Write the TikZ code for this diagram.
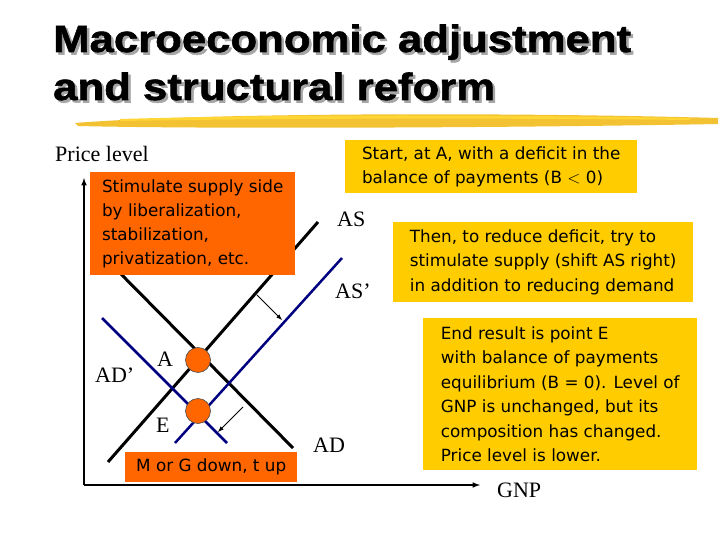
\documentclass[tikz,border=0pt]{standalone}
\usepackage{fontspec}
\setmainfont{Liberation Serif}
\newfontfamily\vfont{DejaVu Sans}
\newfontfamily\tfont[FakeStretch=1.15,FakeBold=1.5]{Liberation Sans}
\definecolor{org}{HTML}{FF6600}
\definecolor{yel}{HTML}{FFCC00}
\definecolor{navy}{HTML}{000080}
\definecolor{brush}{HTML}{F2C233}
\begin{document}
\begin{tikzpicture}[x=1pt,y=-1pt,
  obox/.style={fill=org,inner sep=2pt,align=left,font=\vfont\fontsize{16.8}{24}\selectfont},
  ybox/.style={fill=yel,inner sep=2pt,align=left,font=\vfont\fontsize{16.8}{24.5}\selectfont},
  lab/.style={font=\fontsize{22}{24}\selectfont,inner sep=0pt},
  blk/.style={line width=3pt,black},
  blu/.style={line width=2.5pt,navy},
  pt/.style={circle,fill=org,draw=black!70,line width=0.6pt,minimum size=25pt,inner sep=0pt}]
\useasboundingbox (0,0) rectangle (720,540);
\fill[white] (0,0) rectangle (720,540);
% title
\foreach \dx/\c in {2.5/gray!70,0/black}{
 \node[anchor=base west,inner sep=0pt,text=\c,font=\tfont\bfseries\fontsize{38}{40}\selectfont] (t1\dx) at (53+\dx,52+\dx) {Macroeconomic adjustment};
 \node[anchor=base west,inner sep=0pt,text=\c,font=\tfont\bfseries\fontsize{38}{40}\selectfont] (t2\dx) at (53+\dx,100+\dx) {and structural reform};
}
% brush stroke
\fill[brush] (75,123) .. controls (200,113) and (500,112) .. (718,118) -- (718,124) .. controls (500,128) and (200,129) .. (78,126) -- cycle;
\fill[yel!80!white] (120,119) .. controls (300,114) and (500,115) .. (690,118) -- (690,120) .. controls (500,118) and (300,118) .. (120,121) -- cycle;
% axes
\coordinate (o) at (84,485);
\coordinate (ytop) at (84,178);
\coordinate (xend) at (480,485);
\draw[line width=1.5pt,-latex] (o) -- (ytop);
\draw[line width=1.5pt,-latex] (o) -- (xend);
\node[lab,anchor=base west] (pl) at (55,162) {Price level};
\node[lab,anchor=base west] (gnp) at (497,497) {GNP};
% curves
\coordinate (as1) at (108,462); \coordinate (as2) at (318,222);
\coordinate (ad1) at (115,268); \coordinate (ad2) at (293,448);
\coordinate (adp1) at (102,318); \coordinate (adp2) at (227,443);
\coordinate (asp1) at (175,443); \coordinate (asp2) at (342,258);
\draw[blk] (ad1) -- (ad2);
\draw[blk] (as1) -- (as2);
\draw[blu] (adp1) -- (adp2);
\draw[blu] (asp1) -- (asp2);
% arrows
\coordinate (a1s) at (257,295); \coordinate (a1e) at (282,320);
\coordinate (a2s) at (243,407); \coordinate (a2e) at (218,432);
\draw[line width=1pt,-latex] (a1s) -- (a1e);
\draw[line width=1pt,-latex] (a2s) -- (a2e);
% points
\node[pt] (A) at (198,360) {};
\node[pt] (E) at (198,411) {};
\node[lab,anchor=base west] (lA) at (157,366) {A};
\node[lab,anchor=base west] (lE) at (156,432) {E};
\node[lab,anchor=base west] (lAS) at (337,226) {AS};
\node[lab,anchor=base west] (lASp) at (335,298) {AS’};
\node[lab,anchor=base west] (lAD) at (313,452) {AD};
\node[lab,anchor=base west] (lADp) at (95,382) {AD’};
% boxes
\node[obox,anchor=north west,minimum width=205pt,minimum height=103pt] (b1) at (90,172) {Stimulate supply side\\by liberalization,\\stabilization,\\privatization, etc.};
\node[obox,anchor=north west,minimum width=172pt,minimum height=30pt] (b2) at (125,452) {M or G down, t up};
\node[ybox,anchor=north west,minimum width=292pt,minimum height=53pt] (y1) at (345,140) {Start, at A, with a deficit in the\\balance of payments (B $<$ 0)};
\node[ybox,anchor=north west,minimum width=300pt,minimum height=80pt] (y2) at (393,222) {Then, to reduce deficit, try to\\stimulate supply (shift AS right)\\in addition to reducing demand};
\node[ybox,anchor=north west,minimum width=274pt,minimum height=152pt] (y3) at (423,318) {End result is point E\\with balance of payments\\equilibrium (B = 0). Level of\\GNP is unchanged, but its\\composition has changed.\\Price level is lower.};
\end{tikzpicture}
\end{document}
